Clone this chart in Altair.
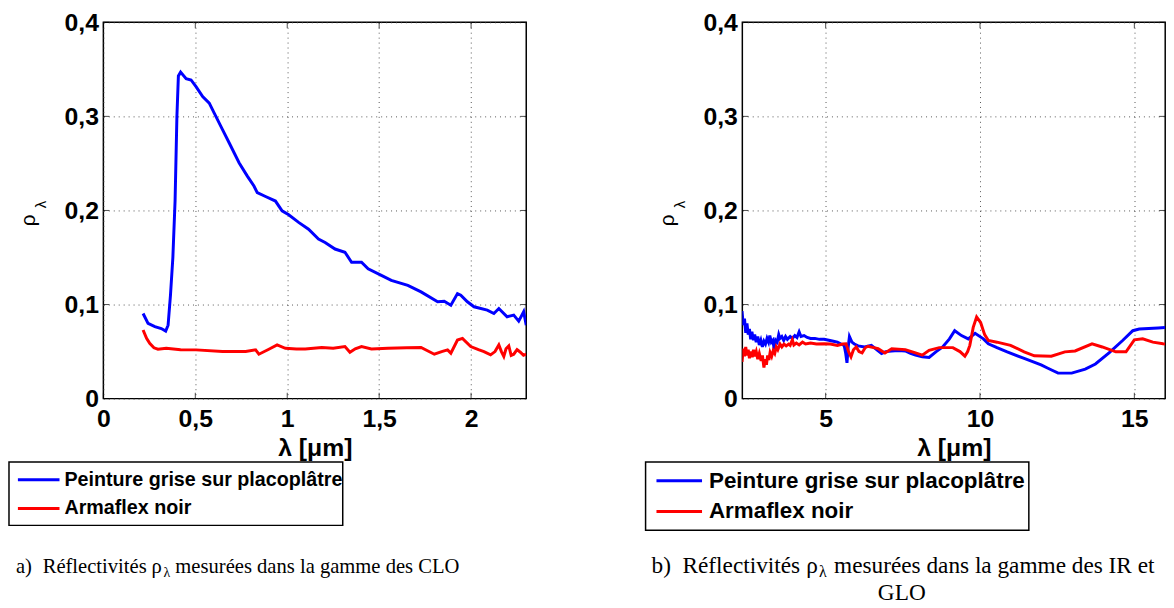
import altair as alt
import pandas as pd

series = ["Peinture grise sur placoplâtre", "Armaflex noir"]
colors = ["#0000ff", "#ff0000"]

# ---- panel a) : CLO range ----
a_blue_x = [0.216, 0.243, 0.28, 0.315, 0.339, 0.352, 0.365, 0.378, 0.39, 0.40, 0.408, 0.42, 0.45, 0.477,
            0.504, 0.54, 0.576, 0.603, 0.648, 0.684, 0.738, 0.783, 0.819, 0.837, 0.882, 0.936, 0.972,
            1.008, 1.062, 1.116, 1.17, 1.206, 1.26, 1.314, 1.35, 1.404, 1.44, 1.512, 1.566, 1.656,
            1.728, 1.818, 1.854, 1.89, 1.926, 1.944, 1.98, 2.016, 2.088, 2.124, 2.151, 2.196, 2.232,
            2.259, 2.286, 2.30]
a_blue_y = [0.0905, 0.080, 0.0765, 0.0745, 0.0718, 0.078, 0.11, 0.15, 0.21, 0.30, 0.343, 0.347, 0.340, 0.3387,
            0.3316, 0.321, 0.314, 0.3035, 0.286, 0.272, 0.2507, 0.2365, 0.226, 0.219, 0.2148, 0.210, 0.1996,
            0.1954, 0.1873, 0.180, 0.1697, 0.166, 0.159, 0.1556, 0.145, 0.145, 0.138, 0.131, 0.1257, 0.1204,
            0.1134, 0.1029, 0.1035, 0.0993, 0.1116, 0.110, 0.1029, 0.0976, 0.094, 0.0905, 0.0958, 0.087, 0.0887,
            0.0824, 0.0923, 0.078]
a_red_x = [0.216, 0.235, 0.252, 0.275, 0.297, 0.342, 0.42, 0.504, 0.648, 0.774, 0.828, 0.846, 0.90, 0.945,
           0.99, 1.05, 1.098, 1.188, 1.25, 1.314, 1.341, 1.37, 1.404, 1.458, 1.548, 1.65, 1.728, 1.80, 1.84,
           1.872, 1.89, 1.926, 1.953, 1.998, 2.04, 2.07, 2.106, 2.13, 2.151, 2.165, 2.178, 2.19, 2.205, 2.218,
           2.232, 2.25, 2.268, 2.285, 2.30]
a_red_y = [0.0729, 0.064, 0.0588, 0.054, 0.0525, 0.0535, 0.052, 0.0518, 0.050, 0.050, 0.0518, 0.0472, 0.0525, 0.057,
           0.0535, 0.0528, 0.0528, 0.0543, 0.0535, 0.0553, 0.0493, 0.053, 0.0553, 0.0528, 0.0535, 0.054, 0.0543, 0.0472, 0.050,
           0.0518, 0.0483, 0.0623, 0.064, 0.0553, 0.052, 0.050, 0.0465, 0.050, 0.057, 0.050, 0.0448, 0.053, 0.056, 0.046,
           0.0472, 0.052, 0.0493, 0.046, 0.0472]

# ---- panel b) : IR / GLO range ----
b_blue_x = [2.29, 2.33, 2.37, 2.41, 2.45, 2.49, 2.53, 2.57, 2.61, 2.66, 2.70, 2.75, 2.80, 2.85, 2.90, 2.95, 3.00,
            3.05, 3.10, 3.15, 3.19, 3.24, 3.29, 3.33, 3.38, 3.43, 3.48, 3.52, 3.58, 3.64, 3.70, 3.76, 3.85, 3.92,
            4.00, 4.07, 4.14, 4.20, 4.30, 4.40, 4.51, 4.65, 4.80, 4.95, 5.10, 5.25, 5.38, 5.50, 5.60, 5.65, 5.69,
            5.73, 5.77, 5.85, 5.93, 6.05, 6.26, 6.48, 6.65, 6.81, 6.95, 7.14, 7.35, 7.58, 7.75, 7.91, 8.13, 8.35,
            8.57, 8.79, 9.01, 9.18, 9.40, 9.62, 9.84, 10.11, 10.27, 10.55, 10.88, 11.43, 11.98, 12.20, 12.53,
            12.97, 13.41, 13.74, 14.18, 14.62, 14.95, 15.16, 15.77, 16.0]
b_blue_y = [0.093, 0.078, 0.085, 0.070, 0.080, 0.068, 0.074, 0.063, 0.071, 0.062, 0.068, 0.060, 0.066, 0.057, 0.062,
            0.055, 0.061, 0.058, 0.064, 0.060, 0.067, 0.060, 0.062, 0.053, 0.062, 0.060, 0.068, 0.064, 0.066, 0.062,
            0.066, 0.063, 0.066, 0.064, 0.067, 0.065, 0.071, 0.066, 0.067, 0.065, 0.064, 0.064, 0.063, 0.063, 0.062,
            0.061, 0.060, 0.058, 0.0566, 0.048, 0.038, 0.055, 0.066, 0.060, 0.058, 0.056, 0.055, 0.0566, 0.052, 0.048,
            0.050, 0.0507, 0.051, 0.0507, 0.048, 0.0462, 0.0444, 0.0438, 0.0497, 0.0549, 0.0635, 0.0722, 0.067,
            0.0635, 0.0694, 0.0635, 0.0583, 0.0542, 0.0497, 0.0427, 0.0358, 0.0323, 0.0271, 0.0271, 0.0313, 0.0368,
            0.0486, 0.0618, 0.0722, 0.074, 0.075, 0.0755]
b_red_x = [2.29, 2.33, 2.37, 2.41, 2.45, 2.49, 2.53, 2.58, 2.62, 2.66, 2.70, 2.75, 2.80, 2.85, 2.91, 2.95, 3.00,
           3.04, 3.08, 3.12, 3.16, 3.20, 3.25, 3.30, 3.35, 3.40, 3.45, 3.52, 3.58, 3.65, 3.72, 3.80, 3.85, 3.92,
           3.97, 4.05, 4.14, 4.25, 4.35, 4.51, 4.70, 4.95, 5.15, 5.38, 5.55, 5.66, 5.74, 5.82, 5.90, 5.99, 6.08,
           6.18, 6.28, 6.37, 6.70, 6.92, 7.14, 7.58, 7.91, 8.13, 8.35, 8.68, 9.12, 9.35, 9.51, 9.60, 9.67, 9.78,
           9.89, 10.02, 10.15, 10.27, 10.55, 10.99, 11.43, 11.76, 12.31, 12.75, 13.08, 13.63, 13.96, 14.40, 14.73,
           15.0, 15.27, 15.60, 15.93, 16.0]
b_red_y = [0.039, 0.053, 0.045, 0.055, 0.046, 0.052, 0.043, 0.050, 0.044, 0.052, 0.045, 0.050, 0.042, 0.048, 0.040,
           0.046, 0.033, 0.042, 0.036, 0.046, 0.041, 0.049, 0.045, 0.051, 0.048, 0.055, 0.052, 0.058, 0.055, 0.058,
           0.056, 0.058, 0.0566, 0.0625, 0.057, 0.059, 0.057, 0.060, 0.058, 0.059, 0.058, 0.0583, 0.058, 0.0566,
           0.058, 0.0583, 0.050, 0.0444, 0.052, 0.0549, 0.050, 0.0486, 0.054, 0.0556, 0.0531, 0.0486, 0.0531,
           0.0521, 0.0486, 0.0462, 0.0514, 0.0542, 0.0542, 0.050, 0.0451, 0.050, 0.0566, 0.0757, 0.0868, 0.0809,
           0.068, 0.0618, 0.060, 0.0566, 0.0497, 0.0455, 0.0451, 0.0497, 0.0507, 0.0583, 0.0549, 0.0497, 0.0497,
           0.0625, 0.0635, 0.060, 0.0583, 0.058]

a_x_domain = [0, 2.3]
b_x_domain = [2.3, 16]
a_x_ticks = [0, 0.5, 1, 1.5, 2]
b_x_ticks = [5, 10, 15]
y_domain = [0, 0.4]
y_ticks = [0, 0.1, 0.2, 0.3, 0.4]
x_title = "λ [μm]"
caption_a = ["a)", "Réflectivités", "ρ", "λ", "mesurées dans la gamme des CLO"]
caption_b = ["b)", "Réflectivités", "ρ", "λ", "mesurées dans la gamme des IR et", "GLO"]

W, H = 427, 380
TICK = 6
label_expr = "replace(format(datum.value, '.1~f'), '.', ',')"

# per-panel styling (legend box / caption placement relative to plot origin)
style_a = dict(box=(-95.3, 241.7, 444, 508), line=(-86.3, -44.3), rows=(462, 491), text_x=-39.3,
               leg_font=19.9, cap_font=20.8, cap_x=(-88.3, -61.3, 48.7, 60.7, 72.7), cap_y=556,
               sub_font=14)
style_b = dict(box=(-97.7, 289.3, 444, 513), line=(-86.7, -40.7), rows=(463, 494), text_x=-33.7,
               leg_font=22.6, cap_font=23.5, cap_x=(-91.7, -60.4, 64.5, 77.3, 92.6), cap_y=556,
               sub_font=16, extra=(161, 583))


def frame(xs_blue, ys_blue, xs_red, ys_red):
    return pd.concat([
        pd.DataFrame({"x": xs_blue, "y": ys_blue, "serie": series[0]}),
        pd.DataFrame({"x": xs_red, "y": ys_red, "serie": series[1]}),
    ], ignore_index=True)


one = pd.DataFrame({"k": [0]})


def txt(text, x, y, size, font="Liberation Sans", weight="normal", angle=0, align="left",
        baseline="alphabetic"):
    return alt.Chart(one).mark_text(text=text, font=font, fontSize=size, fontWeight=weight,
                                    angle=angle, align=align, baseline=baseline,
                                    color="black").encode(x=alt.value(x), y=alt.value(y))


def panel(df, xdom, xticks, caption, st):
    xs = alt.Scale(domain=xdom, nice=False, zero=False)
    ys = alt.Scale(domain=y_domain, nice=False)
    lines = alt.Chart(df).mark_line(strokeWidth=3, clip=True).encode(
        x=alt.X("x:Q", scale=xs, axis=alt.Axis(values=xticks, title=x_title, labelExpr=label_expr)),
        y=alt.Y("y:Q", scale=ys, axis=alt.Axis(values=y_ticks, title=None, labelExpr=label_expr)),
        color=alt.Color("serie:N", scale=alt.Scale(domain=series, range=colors), legend=None),
    )
    layers = [lines]
    # inward (MATLAB-style) tick marks on the four sides of the box
    xt = pd.DataFrame({"x": xticks})
    yt = pd.DataFrame({"y": y_ticks})
    for yy in (H - TICK / 2, TICK / 2):
        layers.append(alt.Chart(xt).mark_tick(color="black", size=TICK, thickness=1, orient="vertical").encode(
            x=alt.X("x:Q", scale=xs), y=alt.value(yy)))
    for xx in (TICK / 2, W - TICK / 2):
        layers.append(alt.Chart(yt).mark_tick(color="black", size=TICK, thickness=1, orient="horizontal").encode(
            y=alt.Y("y:Q", scale=ys), x=alt.value(xx)))
    # y-axis title rho_lambda
    layers.append(txt("ρ", -75, 200, 21, angle=270, align="center", baseline="middle"))
    layers.append(txt("λ", -63, 184, 15, angle=270, align="center", baseline="middle"))
    # legend box
    bx0, bx1, by0, by1 = st["box"]
    layers.append(alt.Chart(one).mark_rect(fill="white", stroke="black", strokeWidth=1.5).encode(
        x=alt.value(bx0), x2=alt.value(bx1), y=alt.value(by0), y2=alt.value(by1)))
    for i, name in enumerate(series):
        yy = st["rows"][i]
        layers.append(alt.Chart(one).mark_rule(color=colors[i], strokeWidth=3).encode(
            x=alt.value(st["line"][0]), x2=alt.value(st["line"][1]), y=alt.value(yy)))
        layers.append(txt(name, st["text_x"], yy, st["leg_font"], weight="bold", baseline="middle"))
    # caption
    serif = "Liberation Serif"
    cx = st["cap_x"]
    cy = st["cap_y"]
    f = st["cap_font"]
    layers.append(txt(caption[0], cx[0], cy, f, font=serif))
    layers.append(txt(caption[1], cx[1], cy, f, font=serif))
    layers.append(txt(caption[2], cx[2], cy, f, font=serif))
    layers.append(txt(caption[3], cx[3], cy + 4, st["sub_font"], font=serif))
    layers.append(txt(caption[4], cx[4], cy, f, font=serif))
    if len(caption) > 5:
        ex, ey = st["extra"]
        layers.append(txt(caption[5], ex, ey, f, font=serif, align="center"))
    return alt.layer(*layers).properties(width=W, height=H)


left = panel(frame(a_blue_x, a_blue_y, a_red_x, a_red_y), a_x_domain, a_x_ticks, caption_a, style_a)
right = panel(frame(b_blue_x, b_blue_y, b_red_x, b_red_y), b_x_domain, b_x_ticks, caption_b, style_b)

chart = alt.hconcat(left, right, spacing=117.2).properties(
    padding={"left": -0.7, "top": -1.5, "right": 0, "bottom": 0}
).configure_view(
    stroke="black", strokeWidth=1.5
).configure_axis(
    labelFont="Liberation Sans", labelFontWeight="bold", labelFontSize=25, labelColor="black",
    labelFlush=False, labelOverlap=False, labelBound=False,
    titleFont="Liberation Sans", titleFontWeight="bold", titleFontSize=25, titleColor="black",
    domain=False, ticks=False,
    gridColor="#444444", gridDash=[1, 4], gridWidth=1, gridOpacity=0.9,
).configure_axisX(
    labelPadding=8, titleY=57, titleBaseline="alphabetic"
).configure_axisY(
    labelPadding=5
)

chart.save("out.html", embed_options={"renderer": "svg", "actions": False})
